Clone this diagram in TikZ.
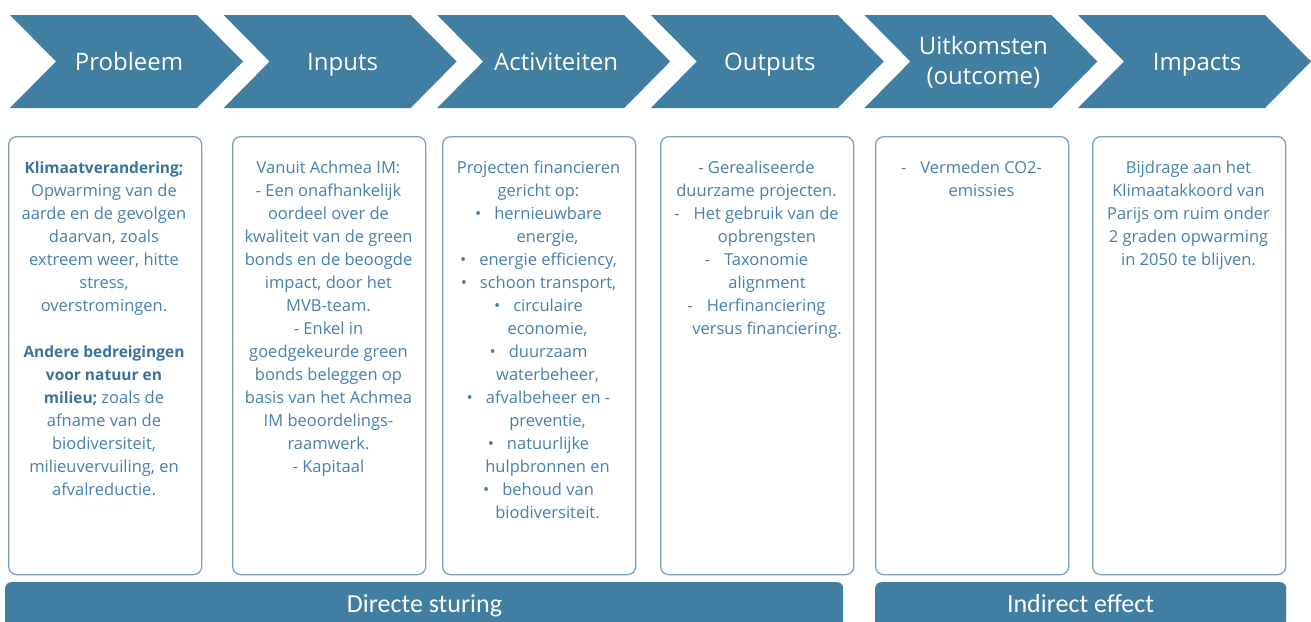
\documentclass[tikz,border=0pt]{standalone}
\usepackage{fontspec}
\setmainfont{Open Sans}
\newfontfamily\barfont{Carlito}
\definecolor{chevblue}{HTML}{417FA2}
\definecolor{txtblue}{HTML}{4781AB}
\definecolor{boldblue}{HTML}{3B729A}
\definecolor{edgeblue}{HTML}{7AA3C2}
\newcommand\mkchev[4]{%
  \fill[chevfill] (#1,15) -- ++(187,0) -- ++(46,46.5) -- ++(-46,46.5) -- ++(-187,0) -- ++(46,-46.5) -- cycle;
  \node[titletext] (#2) at ({#1+119},#3) {\parbox[t]{170pt}{\centering #4}};
}
\newcommand\boxtext[1]{\parbox[t]{190pt}{\centering\leavevmode #1}}
\newcommand\bt[1]{{\fontsize{15.5}{23}\selectfont\bfseries\color{boldblue}#1}}
\begin{document}
\begin{tikzpicture}[x=1pt,y=-1pt,
  chevfill/.style={fill=chevblue},
  titletext/.style={anchor=base,inner sep=0pt,text=white,font=\fontsize{24}{30}\selectfont},
  panel/.style={draw=edgeblue,line width=1.3pt,rounded corners=8pt,fill=white,anchor=north west,minimum width=193pt,minimum height=438pt,inner sep=0pt},
  bodytext/.style={anchor=base,inner sep=0pt,text=txtblue,font=\fontsize{16.5}{23}\selectfont},
  barbox/.style={fill=chevblue,rounded corners=6pt,anchor=north west,minimum height=60pt,inner sep=0pt},
  bartext/.style={anchor=base,inner sep=0pt,text=white,font=\barfont\fontsize{26}{30}\selectfont}]
\clip (0,0) rectangle (1311,621);
\fill[white] (0,0) rectangle (1311,621);
% chevrons
\mkchev{10}{c1}{70}{Probleem}
\mkchev{223.6}{c2}{70}{Inputs}
\mkchev{437.2}{c3}{70}{Activiteiten}
\mkchev{650.8}{c4}{70}{Outputs}
\mkchev{864.4}{c5}{54}{Uitkomsten\\(outcome)}
\mkchev{1078}{c6}{70}{Impacts}
% panels
\node[panel] (b1) at (8,136) {};
\node[panel] (b2) at (232,136) {};
\node[panel] (b3) at (442,136) {};
\node[panel] (b4) at (660,136) {};
\node[panel] (b5) at (875,136) {};
\node[panel] (b6) at (1092,136) {};
% panel texts
\node[bodytext] (t1) at (104,173) {\boxtext{\bt{Klimaatverandering;}\\Opwarming van de\\aarde en de gevolgen\\daarvan, zoals\\extreem weer, hitte\\stress,\\overstromingen.\\[23pt]\bt{Andere bedreigingen}\\\bt{voor natuur en}\\\bt{milieu;} zoals de\\afname van de\\biodiversiteit,\\milieuvervuiling, en\\afvalreductie.}};
\node[bodytext] (t2) at (328.5,173) {\boxtext{Vanuit Achmea IM:\\- Een onafhankelijk\\oordeel over de\\kwaliteit van de green\\bonds en de beoogde\\impact, door het\\MVB-team.\\- Enkel in\\goedgekeurde green\\bonds beleggen op\\basis van het Achmea\\IM beoordelings-\\raamwerk.\\- Kapitaal}};
\node[bodytext] (t3) at (538.5,173) {\boxtext{Projecten financieren\\gericht op:\\•\hspace{13pt}hernieuwbare\\\hspace*{18pt}energie,\\•\hspace{13pt}energie efficiency,\\•\hspace{13pt}schoon transport,\\•\hspace{13pt}circulaire\\\hspace*{18pt}economie,\\•\hspace{13pt}duurzaam\\\hspace*{18pt}waterbeheer,\\•\hspace{13pt}afvalbeheer en -\\\hspace*{18pt}preventie,\\•\hspace{13pt}natuurlijke\\\hspace*{18pt}hulpbronnen en\\•\hspace{13pt}behoud van\\\hspace*{18pt}biodiversiteit.}};
\node[bodytext] (t4) at (756.5,173) {\boxtext{- Gerealiseerde\\duurzame projecten.\\-\hspace{14pt}Het gebruik van de\\\hspace*{21pt}opbrengsten\\-\hspace{14pt}Taxonomie\\\hspace*{21pt}alignment\\-\hspace{14pt}Herfinanciering\\\hspace*{21pt}versus financiering.}};
\node[bodytext] (t5) at (971.5,173) {\boxtext{-\hspace{14pt}Vermeden CO2-\\\hspace*{20pt}emissies}};
\node[bodytext] (t6) at (1188.5,173) {\boxtext{Bijdrage aan het\\Klimaatakkoord van\\Parijs om ruim onder\\2 graden opwarming\\in 2050 te blijven.}};
% bottom bars
\node[barbox,minimum width=838pt] (d1) at (5,582) {};
\node[barbox,minimum width=411pt] (d2) at (875,582) {};
\node[bartext] (dl1) at (424.5,612) {Directe sturing};
\node[bartext] (dl2) at (1080.5,612) {Indirect effect};
\end{tikzpicture}
\end{document}
